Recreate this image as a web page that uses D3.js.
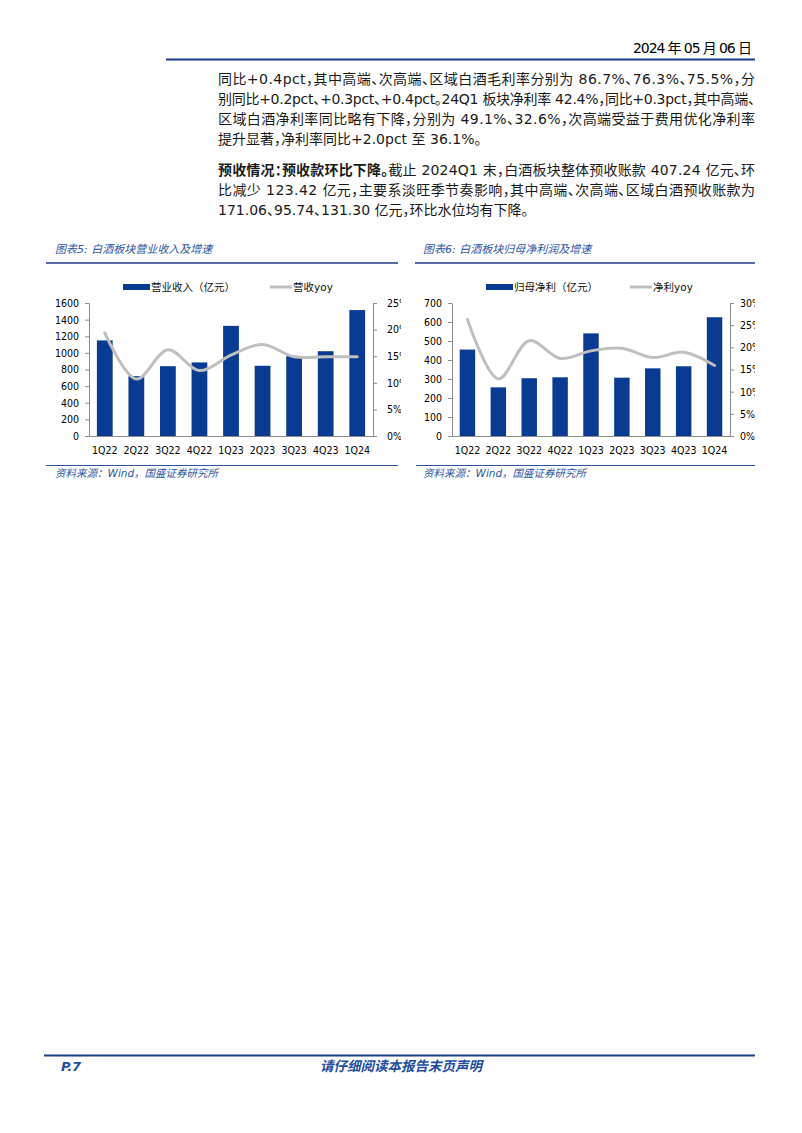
<!DOCTYPE html>
<html><head><meta charset="utf-8">
<script src="https://cdn.jsdelivr.net/npm/d3@7"></script>
<style>
html,body{margin:0;padding:0;background:#fff;}
svg{display:block;}
.body{font-family:"DejaVu Sans","Noto Sans CJK SC",sans-serif;font-size:14px;fill:#1a1a1a;}
.cap{font-family:"DejaVu Sans","Noto Sans CJK SC",sans-serif;font-size:11px;font-style:italic;fill:#2d56a3;}
.src{font-family:"DejaVu Sans","Noto Sans CJK SC",sans-serif;font-size:10.5px;font-style:italic;fill:#2d56a3;}
.leg{font-family:"DejaVu Sans","Noto Sans CJK SC",sans-serif;font-size:10.5px;fill:#111;}
.ax text{font-family:"DejaVu Sans Condensed","DejaVu Sans",sans-serif;font-stretch:condensed;font-size:10.5px;fill:#000;}
.ax path,.ax line{stroke:#8c8c8c;}
</style></head><body>
<svg id="page" width="802" height="1133"></svg>
<script>
// ---------- data ----------
const categories = ["1Q22","2Q22","3Q22","4Q22","1Q23","2Q23","3Q23","4Q23","1Q24"];
const revenue    = [1150, 720, 840, 885, 1325, 845, 960, 1020, 1515];      // 营业收入（亿元）
const revenueYoy = [19.4, 10.7, 16.2, 12.3, 15.2, 17.2, 14.9, 14.9, 14.9]; // 营收yoy %
const profit     = [455, 256, 304, 309, 540, 307, 356, 367, 625];          // 归母净利（亿元）
const profitYoy  = [26.3, 12.9, 21.5, 17.5, 19.2, 19.8, 17.7, 18.9, 15.9]; // 净利yoy %
const revTicks   = [0,200,400,600,800,1000,1200,1400,1600];
const revYoyTicks= [0,5,10,15,20,25];
const proTicks   = [0,100,200,300,400,500,600,700];
const proYoyTicks= [0,5,10,15,20,25,30];

const para1 = [
  "同比+0.4pct，其中高端、次高端、区域白酒毛利率分别为 86.7%、76.3%、75.5%，分",
  "别同比+0.2pct、+0.3pct、+0.4pct。24Q1 板块净利率 42.4%，同比+0.3pct，其中高端、",
  "区域白酒净利率同比略有下降，分别为 49.1%、32.6%，次高端受益于费用优化净利率",
  "提升显著，净利率同比+2.0pct 至 36.1%。"
];
const para2Bold = "预收情况：预收款环比下降。";
const para2 = [
  "截止 2024Q1 末，白酒板块整体预收账款 407.24 亿元、环",
  "比减少 123.42 亿元，主要系淡旺季节奏影响，其中高端、次高端、区域白酒预收账款为",
  "171.06、95.74、131.30 亿元，环比水位均有下降。"
];

const BLUE = "#0a3b93", GRAY = "#bfbfbf", NAVY = "#1c3b89", CAPC = "#2d56a3";
const svg = d3.select("#page");

// ---------- header ----------
svg.append("text").attr("x",752).attr("y",53).attr("text-anchor","end")
  .attr("class","body").style("fill","#000").attr("textLength",119).attr("lengthAdjust","spacing")
  .text("2024 年 05 月 06 日");
svg.append("line").attr("x1",166).attr("x2",755).attr("y1",59.5).attr("y2",59.5)
  .attr("stroke",NAVY).attr("stroke-width",2);

// ---------- body text ----------
const PUNCT = /[，、。：]/;
function addLine(y, segs, justify){
  const t = svg.append("text").attr("x",218).attr("y",y).attr("class","body");
  segs.forEach(s=>{
    let buf = "", isP = null;
    const flush = ()=>{
      if(!buf) return;
      const sp = t.append("tspan").text(buf);
      if(s.bold) sp.style("font-weight","bold");
      if(isP) sp.style("font-feature-settings","'halt' 1");
      buf = "";
    };
    for(const ch of s.text){
      const p = PUNCT.test(ch);
      if(isP !== null && p !== isP) flush();
      isP = p; buf += ch;
    }
    flush();
  });
  if(justify){
    t.attr("textLength",537).attr("lengthAdjust","spacing");
  }
}
const p1y = [84, 104, 124, 144];
para1.forEach((l,i)=>addLine(p1y[i], [{text:l}], i < para1.length-1));
const p2y = [175, 195, 215];
addLine(p2y[0], [{text:para2Bold,bold:true},{text:para2[0]}], true);
addLine(p2y[1], [{text:para2[1]}], true);
addLine(p2y[2], [{text:para2[2]}], false);

// ---------- charts ----------
function drawChart(o){
  const g = svg.append("g");
  g.append("text").attr("class","cap").attr("x",o.titleX).attr("y",253).text(o.title);
  g.append("line").attr("x1",o.lx1).attr("x2",o.lx2).attr("y1",263).attr("y2",263)
    .attr("stroke",NAVY).attr("stroke-width",1.6);

  // legend
  g.append("rect").attr("x",o.legRect).attr("y",284).attr("width",27).attr("height",6).attr("fill",BLUE);
  g.append("text").attr("class","leg").attr("x",o.legRect+28).attr("y",290.5).text(o.barName);
  g.append("line").attr("x1",o.legLine).attr("x2",o.legLine+22).attr("y1",287).attr("y2",287)
    .attr("stroke",GRAY).attr("stroke-width",3);
  g.append("text").attr("class","leg").attr("x",o.legLine+23).attr("y",290.5).text(o.lineName);

  const x = d3.scaleBand().domain(categories).range([o.x0,o.x1]).paddingInner(0.5).paddingOuter(0.25);
  const yL = d3.scaleLinear().domain([0,o.lMax]).range([436,303]);
  const yR = d3.scaleLinear().domain([0,o.rMax]).range([436,303]);

  g.selectAll("rect.bar").data(o.bars).join("rect").attr("class","bar")
    .attr("x",(d,i)=>x(categories[i])).attr("width",x.bandwidth())
    .attr("y",d=>yL(d)).attr("height",d=>436-yL(d)).attr("fill",BLUE);

  const line = d3.line().x((d,i)=>x(categories[i])+x.bandwidth()/2).y(d=>yR(d))
    .curve(d3.curveCatmullRom.alpha(0.5));
  g.append("path").datum(o.yoy).attr("d",line).attr("fill","none")
    .attr("stroke",GRAY).attr("stroke-width",3).attr("stroke-linejoin","round").attr("stroke-linecap","round");

  g.append("g").attr("class","ax").attr("transform",`translate(${o.x0},0)`)
    .call(d3.axisLeft(yL).tickValues(o.lTicks).tickFormat(d3.format("d")).tickSize(4).tickSizeOuter(0).tickPadding(6));

  const clipId = "clip"+o.id;
  svg.append("defs").append("clipPath").attr("id",clipId).append("rect")
    .attr("x",o.x1-2).attr("y",280).attr("width",o.clipX-o.x1+2).attr("height",170);
  g.append("g").attr("clip-path",`url(#${clipId})`)
    .append("g").attr("class","ax").attr("transform",`translate(${o.x1},0)`)
    .call(d3.axisRight(yR).tickValues(o.rTicks).tickFormat(d=>d+"%").tickSize(4).tickSizeOuter(0).tickPadding(o.rPad));

  g.append("g").attr("class","ax").attr("transform","translate(0,436)")
    .call(d3.axisBottom(x).tickSize(0).tickSizeOuter(0).tickPadding(11));

  g.append("line").attr("x1",o.sx1).attr("x2",o.lx2).attr("y1",465.5).attr("y2",465.5)
    .attr("stroke",CAPC).attr("stroke-width",1);
  g.append("text").attr("class","src").attr("x",o.titleX).attr("y",477).text("资料来源：Wind，国盛证券研究所");
}

drawChart({id:5, title:"图表5:  白酒板块营业收入及增速", titleX:55, lx1:46, lx2:398, sx1:46,
  legRect:123, legLine:270, barName:"营业收入（亿元）", lineName:"营收yoy",
  x0:89, x1:373, clipX:401, rPad:10,
  bars:revenue, yoy:revenueYoy, lMax:1600, rMax:25, lTicks:revTicks, rTicks:revYoyTicks});

drawChart({id:6, title:"图表6:  白酒板块归母净利润及增速", titleX:423, lx1:415, lx2:755, sx1:416,
  legRect:486, legLine:630, barName:"归母净利（亿元）", lineName:"净利yoy",
  x0:452, x1:730, clipX:755, rPad:6,
  bars:profit, yoy:profitYoy, lMax:700, rMax:30, lTicks:proTicks, rTicks:proYoyTicks});

// ---------- footer ----------
svg.append("line").attr("x1",44).attr("x2",755).attr("y1",1055.5).attr("y2",1055.5)
  .attr("stroke",NAVY).attr("stroke-width",2);
svg.append("text").attr("x",61).attr("y",1071)
  .style("font-family","'DejaVu Sans',sans-serif").style("font-size","13px")
  .style("font-weight","bold").style("font-style","italic").style("fill","#1f4ea0").text("P.7");
svg.append("text").attr("x",401).attr("y",1071).attr("text-anchor","middle")
  .style("font-family","'Noto Sans CJK SC',sans-serif").style("font-size","13.5px")
  .style("font-weight","bold").style("font-style","italic").style("fill","#1f4ea0").text("请仔细阅读本报告末页声明");
</script>
</body></html>
